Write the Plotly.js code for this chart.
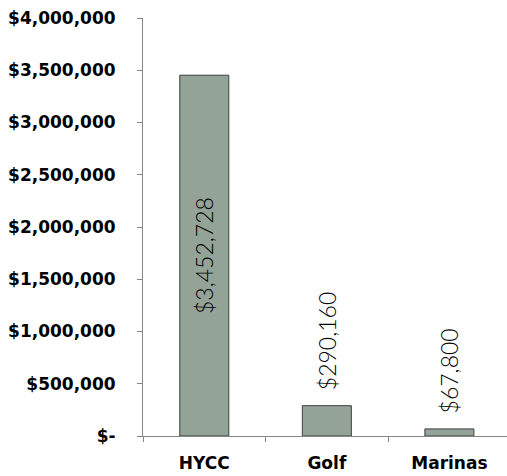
<!DOCTYPE html>
<html>
<head>
<meta charset="utf-8">
<script src="https://cdn.plot.ly/plotly-3.0.1.min.js"></script>
<style>html,body{margin:0;padding:0;background:#fff;}#chart{width:507px;height:476px;}</style>
</head>
<body>
<div id="chart"></div>
<script>
const categories = ["HYCC", "Golf", "Marinas"];
const values = [3452728, 290160, 67800];
const labels = ["$3,452,728", "$290,160", "$67,800"];
const yTickVals = [0, 500000, 1000000, 1500000, 2000000, 2500000, 3000000, 3500000, 4000000];
const yTickText = ["$-", "$500,000", "$1,000,000", "$1,500,000", "$2,000,000", "$2,500,000", "$3,000,000", "$3,500,000", "$4,000,000"];

const labelFont = {family: "Lato, 'DejaVu Sans', sans-serif", size: 23, color: "#000", weight: 300};
const axisFont = {family: "'DejaVu Sans', sans-serif", size: 17, color: "#000", weight: "bold"};

const trace = {
  type: "bar",
  x: categories,
  y: values,
  text: labels,
  texttemplate: ["%{text}", "\u00a0\u00a0%{text}", "\u00a0\u00a0%{text}"],
  textposition: ["inside", "outside", "outside"],
  insidetextanchor: "middle",
  textangle: -90,
  constraintext: "none",
  cliponaxis: false,
  textfont: labelFont,
  insidetextfont: labelFont,
  outsidetextfont: labelFont,
  width: 0.4,
  marker: {color: "#93a397", line: {color: "#3f3f3f", width: 1}},
  hoverinfo: "skip"
};

const layout = {
  width: 507,
  height: 476,
  margin: {l: 143, r: 0, t: 18, b: 40},
  paper_bgcolor: "#fff",
  plot_bgcolor: "#fff",
  showlegend: false,
  font: {family: "'DejaVu Sans', sans-serif", color: "#000"},
  xaxis: {
    type: "category",
    range: [-0.5, 2.47],
    showline: true,
    linecolor: "#868686",
    linewidth: 1,
    ticks: "outside",
    tickson: "boundaries",
    ticklen: 5,
    tickcolor: "#868686",
    showgrid: false,
    zeroline: false,
    ticklabelstandoff: 12,
    tickfont: axisFont
  },
  yaxis: {
    range: [0, 4000000],
    tickvals: yTickVals,
    ticktext: yTickText,
    showline: true,
    linecolor: "#868686",
    linewidth: 1,
    ticks: "outside",
    ticklen: 5,
    tickcolor: "#868686",
    showgrid: false,
    zeroline: false,
    ticklabelstandoff: 18,
    tickfont: axisFont
  }
};

Plotly.newPlot("chart", [trace], layout, {staticPlot: true, displayModeBar: false});
</script>
</body>
</html>
